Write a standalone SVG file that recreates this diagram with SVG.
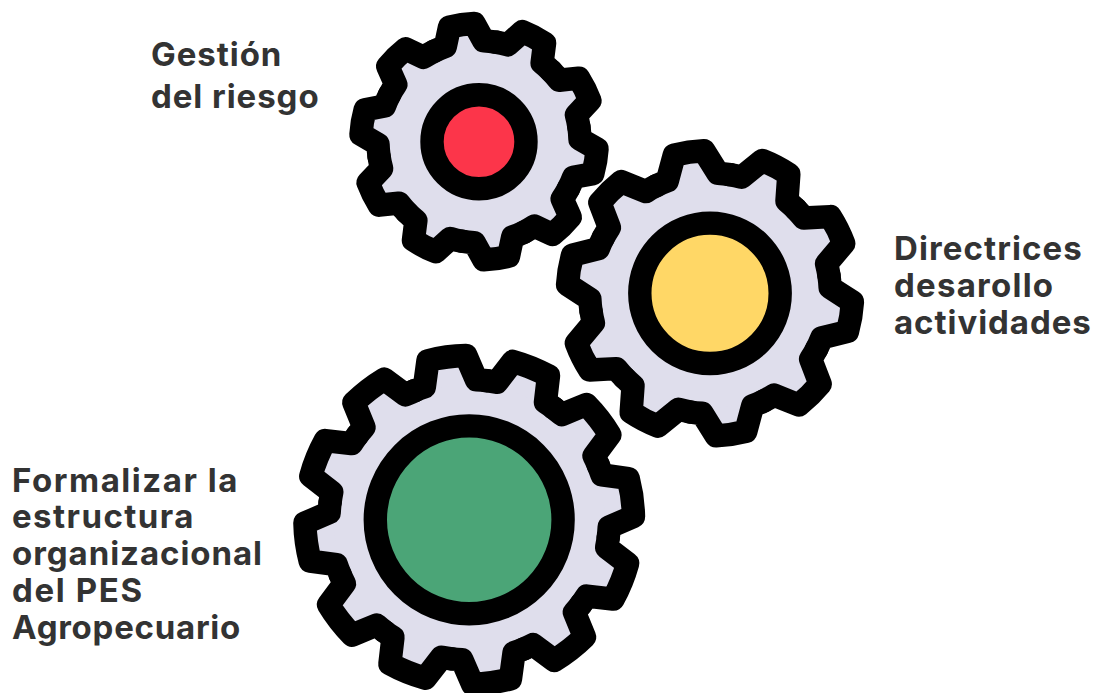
<svg xmlns="http://www.w3.org/2000/svg" xmlns:xlink="http://www.w3.org/1999/xlink" width="1094" height="693" viewBox="0 0 1094 693">
<style>
.body{fill:#dfdeec}
.out{fill:none;stroke:#000;stroke-width:23.4;stroke-linejoin:round;stroke-linecap:round}
.ring{stroke:#000;stroke-width:23.4}
.lbl{font-family:"Inter","Liberation Sans",sans-serif;font-weight:700;font-size:33px;letter-spacing:.95px;fill:#333}
</style>
<defs>
<path id="a1" d="M-31.2 -96.06A101 101 0 0 1 -19.4 -99.1L-12.5 -117.6A118.3 118.3 0 0 1 12.5 -117.6L19.4 -99.1A101 101 0 0 1 31.2 -96.06"/>
<path id="a2" d="M-37.2 -114.4A120.3 120.3 0 0 1 -25.6 -117.5L-15 -141.9A142.7 142.7 0 0 1 15 -141.9L25.6 -117.5A120.3 120.3 0 0 1 37.2 -114.4"/>
<path id="a3" d="M-36.3 -135.4A140.2 140.2 0 0 1 -26.27 -137.7L-19.17 -163.2A164.3 164.3 0 0 1 19.17 -163.2L26.27 -137.7A140.2 140.2 0 0 1 36.3 -135.4"/>
<g id="g1">
<use xlink:href="#a1" transform="rotate(-8.4)"/><use xlink:href="#a1" transform="rotate(27.6)"/><use xlink:href="#a1" transform="rotate(63.6)"/><use xlink:href="#a1" transform="rotate(99.6)"/><use xlink:href="#a1" transform="rotate(135.6)"/><use xlink:href="#a1" transform="rotate(171.6)"/><use xlink:href="#a1" transform="rotate(207.6)"/><use xlink:href="#a1" transform="rotate(243.6)"/><use xlink:href="#a1" transform="rotate(279.6)"/><use xlink:href="#a1" transform="rotate(315.6)"/>
</g>
<g id="g2">
<use xlink:href="#a2" transform="rotate(-8.5)"/><use xlink:href="#a2" transform="rotate(27.5)"/><use xlink:href="#a2" transform="rotate(63.5)"/><use xlink:href="#a2" transform="rotate(99.5)"/><use xlink:href="#a2" transform="rotate(135.5)"/><use xlink:href="#a2" transform="rotate(171.5)"/><use xlink:href="#a2" transform="rotate(207.5)"/><use xlink:href="#a2" transform="rotate(243.5)"/><use xlink:href="#a2" transform="rotate(279.5)"/><use xlink:href="#a2" transform="rotate(315.5)"/>
</g>
<g id="g3">
<use xlink:href="#a3" transform="rotate(-7.85)"/><use xlink:href="#a3" transform="rotate(22.15)"/><use xlink:href="#a3" transform="rotate(52.15)"/><use xlink:href="#a3" transform="rotate(82.15)"/><use xlink:href="#a3" transform="rotate(112.15)"/><use xlink:href="#a3" transform="rotate(142.15)"/><use xlink:href="#a3" transform="rotate(172.15)"/><use xlink:href="#a3" transform="rotate(202.15)"/><use xlink:href="#a3" transform="rotate(232.15)"/><use xlink:href="#a3" transform="rotate(262.15)"/><use xlink:href="#a3" transform="rotate(292.15)"/><use xlink:href="#a3" transform="rotate(322.15)"/>
</g>
</defs>
<g id="gear-riesgo" transform="translate(479 141.7)">
<circle class="body" r="105"/><use xlink:href="#g1" class="body"/><use xlink:href="#g1" class="out"/>
<circle class="ring" r="47" fill="#fc354a"/>
</g>
<g id="gear-directrices" transform="translate(710 293.3)">
<circle class="body" r="124"/><use xlink:href="#g2" class="body"/><use xlink:href="#g2" class="out"/>
<circle class="ring" r="70.2" fill="#ffd766"/>
</g>
<g id="gear-formalizar" transform="translate(469.2 519.8)">
<circle class="body" r="145"/><use xlink:href="#g3" class="body"/><use xlink:href="#g3" class="out"/>
<circle class="ring" r="93.9" fill="#4ba577"/>
</g>
<g id="labels">
<text class="lbl" x="151" y="66">Gestión</text>
<text class="lbl" x="151" y="108">del riesgo</text>
<text class="lbl" x="894" y="260" letter-spacing="1.1" style="letter-spacing:1.1px">Directrices</text>
<text class="lbl" x="894" y="297" style="letter-spacing:1.25px">desarollo</text>
<text class="lbl" x="894" y="333.5">actividades</text>
<text class="lbl" x="12" y="491.5" style="letter-spacing:1.55px">Formalizar la</text>
<text class="lbl" x="12" y="528" style="letter-spacing:1.45px">estructura</text>
<text class="lbl" x="12" y="565">organizacional</text>
<text class="lbl" x="12" y="602" style="letter-spacing:1.65px">del PES</text>
<text class="lbl" x="12" y="639" style="letter-spacing:.75px">Agropecuario</text>
</g>
</svg>
